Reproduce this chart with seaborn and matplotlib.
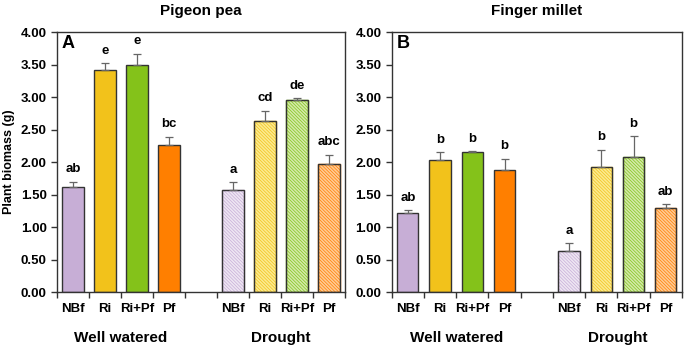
import pandas as pd
import seaborn as sns
import matplotlib.pyplot as plt

treatments = ['NBf', 'Ri', 'Ri+Pf', 'Pf']
conditions = ['Well watered', 'Drought']

# valores (media, topo da barra de erro, letra)
pea_mean = [1.61, 3.41, 3.49, 2.27, 1.57, 2.63, 2.96, 1.97]
pea_top = [1.70, 3.52, 3.67, 2.39, 1.69, 2.79, 2.98, 2.11]
pea_letters = ['ab', 'e', 'e', 'bc', 'a', 'cd', 'de', 'abc']

millet_mean = [1.22, 2.04, 2.15, 1.88, 0.64, 1.92, 2.08, 1.30]
millet_top = [1.26, 2.15, 2.17, 2.05, 0.75, 2.19, 2.40, 1.35]
millet_letters = ['ab', 'b', 'b', 'b', 'a', 'b', 'b', 'ab']

cores = ['#C7AED6', '#F2C21B', '#84C21A', '#FF7F00']
cores_claras = ['#EEE6F3', '#FCEB90', '#D3EAAA', '#FFCB96']

plt.rcParams['font.family'] = ['Liberation Sans', 'DejaVu Sans']
plt.rcParams['font.weight'] = 'bold'
plt.rcParams['hatch.linewidth'] = 0.5

slots = ['WW_NBf', 'WW_Ri', 'WW_RiPf', 'WW_Pf', 'gap', 'D_NBf', 'D_Ri', 'D_RiPf', 'D_Pf']
chaves = [s for s in slots if s != 'gap']

fig = plt.figure(figsize=(6.86, 3.49), dpi=100)
ax1 = fig.add_axes([0.083, 0.163, 0.420, 0.745])
ax2 = fig.add_axes([0.571, 0.163, 0.423, 0.745])


def painel(ax, medias, topos, letras, titulo, letra_painel, ylabel):
    dados = pd.DataFrame({'slot': chaves, 'valor': medias})
    sns.barplot(x='slot', y='valor', data=dados, order=slots, ax=ax,
                width=0.66, errorbar=None, color='white')
    barras = ax.patches
    for i, b in enumerate(barras):
        b.set_edgecolor('#333333')
        b.set_linewidth(1.0)
        if i < 4:
            b.set_facecolor(cores[i])
        else:
            b.set_facecolor(cores_claras[i - 4])
            b.set_hatch('\\' * 10)
            b.set_edgecolor(cores[i - 4])
    # contorno escuro das barras hachuradas
    for i, b in enumerate(barras[4:]):
        ax.add_patch(plt.Rectangle(b.get_xy(), b.get_width(), b.get_height(),
                                   fill=False, edgecolor='#333333', lw=1.0))
    pos = [slots.index(k) for k in chaves]
    ax.errorbar(pos, medias,
                yerr=[[0] * 8, [t - m for t, m in zip(topos, medias)]],
                fmt='none', ecolor='#666666', elinewidth=0.9, capsize=3, capthick=0.9)
    for p, t, l in zip(pos, topos, letras):
        ax.text(p, t + 0.1, l, ha='center', va='bottom', fontsize=9.5, fontweight='bold')

    ax.set_ylim(0, 4)
    ax.set_xlim(-0.5, 8.5)
    ax.set_yticks([0, 0.5, 1, 1.5, 2, 2.5, 3, 3.5, 4])
    ax.set_yticklabels(['%.2f' % v for v in ax.get_yticks()], fontsize=9.5, fontweight='bold')
    ax.set_xticks([i - 0.5 for i in range(10)])
    ax.set_xticklabels([])
    ax.set_xticks(pos, minor=True)
    ax.set_xticklabels(treatments * 2, minor=True, fontsize=9.5, fontweight='bold')
    ax.tick_params(axis='x', which='minor', length=0, pad=8)
    ax.tick_params(axis='both', which='major', direction='out', length=4, width=1, color='#333333')
    ax.set_xlabel('')
    ax.set_ylabel(ylabel, fontsize=9, fontweight='bold')
    for s in ax.spines.values():
        s.set_color('#333333')
        s.set_linewidth(1.0)
    ax.text(1.5, -0.7, conditions[0], ha='center', va='center', fontsize=11, fontweight='bold')
    ax.text(6.5, -0.7, conditions[1], ha='center', va='center', fontsize=11, fontweight='bold')
    ax.text(0.5, 1.08, titulo, transform=ax.transAxes, ha='center', va='center',
            fontsize=11, fontweight='bold')
    ax.text(-0.35, 3.83, letra_painel, ha='left', va='center', fontsize=13, fontweight='bold')


painel(ax1, pea_mean, pea_top, pea_letters, 'Pigeon pea', 'A', 'Plant biomass (g)')
painel(ax2, millet_mean, millet_top, millet_letters, 'Finger millet', 'B', '')

fig.savefig('out.png', dpi=100)
